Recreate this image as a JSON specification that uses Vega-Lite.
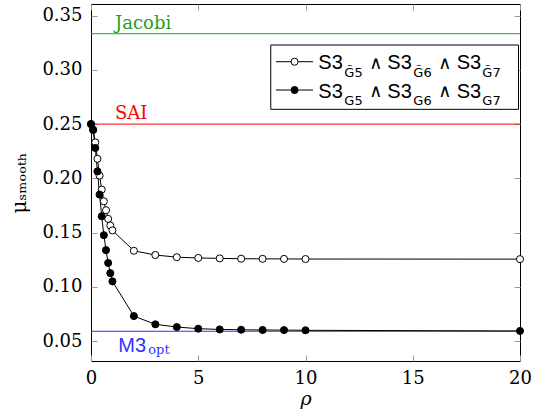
{
  "$schema": "https://vega.github.io/schema/vega-lite/v6.json",
  "width": 429,
  "height": 357,
  "autosize": {"type": "none"},
  "padding": {"left": 91, "top": 4, "right": 14, "bottom": 55},
  "background": "white",
  "config": {
    "view": {"stroke": "black", "strokeWidth": 1},
    "axis": {
      "grid": false,
      "domain": false,
      "tickColor": "#999999",
      "tickWidth": 1,
      "tickSize": -6,
      "labelColor": "black",
      "titleColor": "black",
      "titleFontWeight": "normal",
      "labelFlush": false,
      "labelOverlap": false
    }
  },
  "datasets": {
    "series": [
      {"rho": 0, "mu": 0.2500, "variant": "tilde"},
      {"rho": 0.1, "mu": 0.2445, "variant": "tilde"},
      {"rho": 0.2, "mu": 0.2331, "variant": "tilde"},
      {"rho": 0.3, "mu": 0.2180, "variant": "tilde"},
      {"rho": 0.4, "mu": 0.2025, "variant": "tilde"},
      {"rho": 0.5, "mu": 0.1896, "variant": "tilde"},
      {"rho": 0.6, "mu": 0.1788, "variant": "tilde"},
      {"rho": 0.7, "mu": 0.1706, "variant": "tilde"},
      {"rho": 0.8, "mu": 0.1626, "variant": "tilde"},
      {"rho": 0.9, "mu": 0.1565, "variant": "tilde"},
      {"rho": 1, "mu": 0.1520, "variant": "tilde"},
      {"rho": 2, "mu": 0.1332, "variant": "tilde"},
      {"rho": 3, "mu": 0.1293, "variant": "tilde"},
      {"rho": 4, "mu": 0.1273, "variant": "tilde"},
      {"rho": 5, "mu": 0.1266, "variant": "tilde"},
      {"rho": 6, "mu": 0.1262, "variant": "tilde"},
      {"rho": 7, "mu": 0.1259, "variant": "tilde"},
      {"rho": 8, "mu": 0.1258, "variant": "tilde"},
      {"rho": 9, "mu": 0.1257, "variant": "tilde"},
      {"rho": 10, "mu": 0.1256, "variant": "tilde"},
      {"rho": 20, "mu": 0.1255, "variant": "tilde"},
      {"rho": 0, "mu": 0.2500, "variant": "plain"},
      {"rho": 0.1, "mu": 0.2448, "variant": "plain"},
      {"rho": 0.2, "mu": 0.2280, "variant": "plain"},
      {"rho": 0.3, "mu": 0.2064, "variant": "plain"},
      {"rho": 0.4, "mu": 0.1850, "variant": "plain"},
      {"rho": 0.5, "mu": 0.1650, "variant": "plain"},
      {"rho": 0.6, "mu": 0.1476, "variant": "plain"},
      {"rho": 0.7, "mu": 0.1338, "variant": "plain"},
      {"rho": 0.8, "mu": 0.1220, "variant": "plain"},
      {"rho": 0.9, "mu": 0.1126, "variant": "plain"},
      {"rho": 1, "mu": 0.1050, "variant": "plain"},
      {"rho": 2, "mu": 0.0730, "variant": "plain"},
      {"rho": 3, "mu": 0.0654, "variant": "plain"},
      {"rho": 4, "mu": 0.0629, "variant": "plain"},
      {"rho": 5, "mu": 0.0614, "variant": "plain"},
      {"rho": 6, "mu": 0.0607, "variant": "plain"},
      {"rho": 7, "mu": 0.0604, "variant": "plain"},
      {"rho": 8, "mu": 0.0602, "variant": "plain"},
      {"rho": 9, "mu": 0.0601, "variant": "plain"},
      {"rho": 10, "mu": 0.0599, "variant": "plain"},
      {"rho": 20, "mu": 0.0593, "variant": "plain"}
    ],
    "refs": [
      {"method": "Jacobi", "mu": 0.3333, "label": "Jacobi"},
      {"method": "SAI", "mu": 0.25, "label": "SAI"},
      {"method": "M3opt", "mu": 0.059, "label": "M3"}
    ],
    "one": [{}]
  },
  "resolve": {"axis": {"x": "independent", "y": "independent"}},
  "layer": [
    {
      "data": {"name": "series"},
      "mark": {"type": "point", "opacity": 0},
      "encoding": {
        "x": {"field": "rho", "type": "quantitative",
          "scale": {"domain": [0, 20], "nice": false, "zero": false},
          "axis": {"orient": "top", "values": [0, 5, 10, 15, 20], "labels": false, "title": null}},
        "y": {"field": "mu", "type": "quantitative",
          "scale": {"domain": [0.0316, 0.3607], "nice": false, "zero": false},
          "axis": {"orient": "right", "values": [0.05, 0.1, 0.15, 0.2, 0.25, 0.3, 0.35], "labels": false, "title": null}}
      }
    },
    {
      "layer": [
        {
          "data": {"name": "refs"},
          "mark": {"type": "rule", "strokeWidth": 1},
          "encoding": {
            "y": {"field": "mu", "type": "quantitative"},
            "color": {"field": "method", "type": "nominal",
              "scale": {"domain": ["Jacobi", "SAI", "M3opt"], "range": ["#22a022", "#ff0000", "#3333ff"]},
              "legend": null}
          }
        },
        {
          "data": {"name": "series"},
          "mark": {"type": "line", "color": "black", "strokeWidth": 1},
          "encoding": {
            "x": {"field": "rho", "type": "quantitative",
              "scale": {"domain": [0, 20], "nice": false, "zero": false},
              "axis": {"orient": "bottom", "values": [0, 5, 10, 15, 20], "title": "ρ",
                "labelFont": "DejaVu Serif", "labelFontSize": 18,
                "titleFont": "DejaVu Serif", "titleFontSize": 19, "titleFontStyle": "italic",
                "labelPadding": 14, "titlePadding": 2}},
            "y": {"field": "mu", "type": "quantitative",
              "scale": {"domain": [0.0316, 0.3607], "nice": false, "zero": false},
              "axis": {"orient": "left", "values": [0.05, 0.1, 0.15, 0.2, 0.25, 0.3, 0.35], "format": ".2f", "title": "μₛₘₒₒₜₕ",
                "labelFont": "DejaVu Serif", "labelFontSize": 18,
                "titleFont": "DejaVu Serif", "titleFontSize": 20,
                "labelPadding": 15, "titlePadding": 12}},
            "detail": {"field": "variant", "type": "nominal"}
          }
        },
        {
          "data": {"name": "series"},
          "mark": {"type": "point", "shape": "circle", "filled": true, "stroke": "black", "strokeWidth": 1, "size": 50, "opacity": 1},
          "encoding": {
            "x": {"field": "rho", "type": "quantitative"},
            "y": {"field": "mu", "type": "quantitative"},
            "fill": {"field": "variant", "type": "nominal",
              "scale": {"domain": ["tilde", "plain"], "range": ["white", "black"]}, "legend": null}
          }
        },
        {
          "data": {"name": "refs"},
          "transform": [{"filter": "datum.method !== 'M3opt'"}],
          "mark": {"type": "text", "align": "left", "baseline": "alphabetic", "dy": -5, "font": "DejaVu Serif", "fontSize": 18},
          "encoding": {
            "x": {"datum": 1.12},
            "y": {"field": "mu", "type": "quantitative"},
            "text": {"field": "label"},
            "color": {"field": "method", "type": "nominal", "legend": null}
          }
        },
        {
          "data": {"name": "refs"},
          "transform": [{"filter": "datum.method === 'M3opt'"}],
          "mark": {"type": "text", "align": "left", "baseline": "alphabetic", "dy": 20.5, "font": "Liberation Sans", "fontSize": 20},
          "encoding": {
            "x": {"datum": 1.27},
            "y": {"field": "mu", "type": "quantitative"},
            "text": {"field": "label"},
            "color": {"field": "method", "type": "nominal", "legend": null}
          }
        },
        {
          "data": {"name": "refs"},
          "transform": [{"filter": "datum.method === 'M3opt'"}],
          "mark": {"type": "text", "text": "opt", "align": "left", "baseline": "alphabetic", "dx": 30, "dy": 23, "font": "DejaVu Serif", "fontSize": 13},
          "encoding": {
            "x": {"datum": 1.27},
            "y": {"field": "mu", "type": "quantitative"},
            "color": {"field": "method", "type": "nominal", "legend": null}
          }
        },
        {
          "data": {"name": "one"},
          "mark": {"type": "rect", "fill": "white", "stroke": "black", "strokeWidth": 1},
          "encoding": {"x": {"datum": 8.38}, "x2": {"datum": 19.93}, "y": {"datum": 0.3229}, "y2": {"datum": 0.2636}}
        },
        {
          "data": {"name": "one"},
          "mark": {"type": "rule", "color": "black", "strokeWidth": 1},
          "encoding": {"x": {"datum": 8.62}, "x2": {"datum": 10.35}, "y": {"datum": 0.3075}}
        },
        {
          "data": {"name": "one"},
          "mark": {"type": "point", "shape": "circle", "filled": true, "fill": "white", "stroke": "black", "strokeWidth": 1, "size": 50, "opacity": 1},
          "encoding": {"x": {"datum": 9.49}, "y": {"datum": 0.3075}}
        },
        {
          "data": {"name": "one"},
          "mark": {"type": "rule", "color": "black", "strokeWidth": 1},
          "encoding": {"x": {"datum": 8.62}, "x2": {"datum": 10.35}, "y": {"datum": 0.2814}}
        },
        {
          "data": {"name": "one"},
          "mark": {"type": "point", "shape": "circle", "filled": true, "fill": "black", "stroke": "black", "strokeWidth": 1, "size": 50, "opacity": 1},
          "encoding": {"x": {"datum": 9.49}, "y": {"datum": 0.2814}}
        },
        {"data": {"name": "one"}, "mark": {"type": "text", "text": "S3", "font": "Liberation Sans", "fontSize": 20, "align": "left", "baseline": "alphabetic", "dx": 0, "dy": 7.6, "color": "black"}, "encoding": {"x": {"datum": 10.6}, "y": {"datum": 0.3075}}},
        {"data": {"name": "one"}, "mark": {"type": "text", "text": "G̃5", "font": "DejaVu Sans", "fontSize": 13, "align": "left", "baseline": "alphabetic", "dx": 26, "dy": 15, "color": "black"}, "encoding": {"x": {"datum": 10.6}, "y": {"datum": 0.3075}}},
        {"data": {"name": "one"}, "mark": {"type": "text", "text": "∧", "font": "DejaVu Sans", "fontSize": 18, "align": "left", "baseline": "alphabetic", "dx": 51, "dy": 7, "color": "black"}, "encoding": {"x": {"datum": 10.6}, "y": {"datum": 0.3075}}},
        {"data": {"name": "one"}, "mark": {"type": "text", "text": "S3", "font": "Liberation Sans", "fontSize": 20, "align": "left", "baseline": "alphabetic", "dx": 69, "dy": 7.6, "color": "black"}, "encoding": {"x": {"datum": 10.6}, "y": {"datum": 0.3075}}},
        {"data": {"name": "one"}, "mark": {"type": "text", "text": "G̃6", "font": "DejaVu Sans", "fontSize": 13, "align": "left", "baseline": "alphabetic", "dx": 95, "dy": 15, "color": "black"}, "encoding": {"x": {"datum": 10.6}, "y": {"datum": 0.3075}}},
        {"data": {"name": "one"}, "mark": {"type": "text", "text": "∧", "font": "DejaVu Sans", "fontSize": 18, "align": "left", "baseline": "alphabetic", "dx": 120, "dy": 7, "color": "black"}, "encoding": {"x": {"datum": 10.6}, "y": {"datum": 0.3075}}},
        {"data": {"name": "one"}, "mark": {"type": "text", "text": "S3", "font": "Liberation Sans", "fontSize": 20, "align": "left", "baseline": "alphabetic", "dx": 138.3, "dy": 7.6, "color": "black"}, "encoding": {"x": {"datum": 10.6}, "y": {"datum": 0.3075}}},
        {"data": {"name": "one"}, "mark": {"type": "text", "text": "G̃7", "font": "DejaVu Sans", "fontSize": 13, "align": "left", "baseline": "alphabetic", "dx": 164, "dy": 15, "color": "black"}, "encoding": {"x": {"datum": 10.6}, "y": {"datum": 0.3075}}},
        {"data": {"name": "one"}, "mark": {"type": "text", "text": "S3", "font": "Liberation Sans", "fontSize": 20, "align": "left", "baseline": "alphabetic", "dx": 0, "dy": 7.6, "color": "black"}, "encoding": {"x": {"datum": 10.6}, "y": {"datum": 0.2814}}},
        {"data": {"name": "one"}, "mark": {"type": "text", "text": "G5", "font": "DejaVu Sans", "fontSize": 13, "align": "left", "baseline": "alphabetic", "dx": 26, "dy": 15, "color": "black"}, "encoding": {"x": {"datum": 10.6}, "y": {"datum": 0.2814}}},
        {"data": {"name": "one"}, "mark": {"type": "text", "text": "∧", "font": "DejaVu Sans", "fontSize": 18, "align": "left", "baseline": "alphabetic", "dx": 51, "dy": 7, "color": "black"}, "encoding": {"x": {"datum": 10.6}, "y": {"datum": 0.2814}}},
        {"data": {"name": "one"}, "mark": {"type": "text", "text": "S3", "font": "Liberation Sans", "fontSize": 20, "align": "left", "baseline": "alphabetic", "dx": 69, "dy": 7.6, "color": "black"}, "encoding": {"x": {"datum": 10.6}, "y": {"datum": 0.2814}}},
        {"data": {"name": "one"}, "mark": {"type": "text", "text": "G6", "font": "DejaVu Sans", "fontSize": 13, "align": "left", "baseline": "alphabetic", "dx": 95, "dy": 15, "color": "black"}, "encoding": {"x": {"datum": 10.6}, "y": {"datum": 0.2814}}},
        {"data": {"name": "one"}, "mark": {"type": "text", "text": "∧", "font": "DejaVu Sans", "fontSize": 18, "align": "left", "baseline": "alphabetic", "dx": 120, "dy": 7, "color": "black"}, "encoding": {"x": {"datum": 10.6}, "y": {"datum": 0.2814}}},
        {"data": {"name": "one"}, "mark": {"type": "text", "text": "S3", "font": "Liberation Sans", "fontSize": 20, "align": "left", "baseline": "alphabetic", "dx": 138.3, "dy": 7.6, "color": "black"}, "encoding": {"x": {"datum": 10.6}, "y": {"datum": 0.2814}}},
        {"data": {"name": "one"}, "mark": {"type": "text", "text": "G7", "font": "DejaVu Sans", "fontSize": 13, "align": "left", "baseline": "alphabetic", "dx": 164, "dy": 15, "color": "black"}, "encoding": {"x": {"datum": 10.6}, "y": {"datum": 0.2814}}}
      ]
    }
  ]
}
